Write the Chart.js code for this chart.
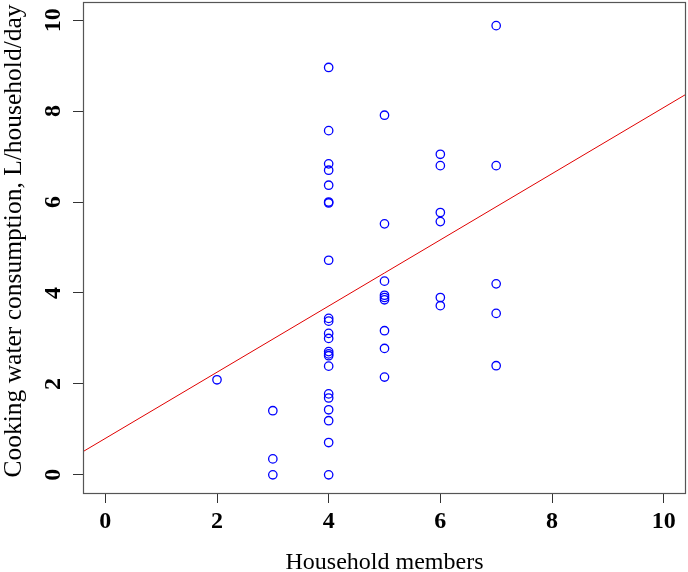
<!DOCTYPE html>
<html>
<head>
<meta charset="utf-8">
<script src="https://cdn.jsdelivr.net/npm/chart.js@4/dist/chart.umd.min.js"></script>
<style>
  html, body { margin: 0; padding: 0; background: #ffffff; }
  #wrap { width: 688px; height: 572px; }
</style>
</head>
<body>
<div id="wrap"><canvas id="c" width="688" height="572"></canvas></div>
<script>
// ---- Data ----
const householdMembers = [
  2,
  3, 3, 3,
  4, 4, 4, 4, 4, 4, 4, 4, 4, 4, 4, 4, 4, 4, 4, 4, 4, 4, 4, 4, 4, 4,
  5, 5, 5, 5, 5, 5, 5, 5, 5,
  6, 6, 6, 6, 6, 6,
  7, 7, 7, 7, 7
];
const cookingWater = [
  2.09,
  1.41, 0.35, 0.00,
  8.96, 7.57, 6.84, 6.70, 6.37, 6.00, 5.98, 4.72, 3.44, 3.38, 3.11, 3.00, 2.71, 2.66, 2.62, 2.39, 1.78, 1.69, 1.43, 1.19, 0.71, 0.00,
  7.91, 5.52, 4.26, 3.95, 3.90, 3.85, 3.17, 2.78, 2.15,
  7.05, 6.80, 5.77, 5.57, 3.90, 3.72,
  9.88, 6.80, 4.20, 3.55, 2.40
];
// fitted line end points (at the plot edges)
const fitX = [-0.4, 10.4];
const fitY = [0.51, 8.37];
// axis ticks
const xTicks = [0, 2, 4, 6, 8, 10];
const yTicks = [0, 2, 4, 6, 8, 10];
const xTitle = 'Household members';
const yTitle = 'Cooking water consumption, L/household/day';

const serif = "'Liberation Serif', 'Times New Roman', serif";

const scatterData = householdMembers.map((x, i) => ({ x: x, y: cookingWater[i] }));
const fitData = fitX.map((x, i) => ({ x: x, y: fitY[i] }));

const boxAndYLabels = {
  id: 'boxAndYLabels',
  afterDraw(chart) {
    const ctx = chart.ctx;
    const a = chart.chartArea;
    ctx.save();
    ctx.strokeStyle = '#555555';
    ctx.lineWidth = 1.2;
    ctx.strokeRect(a.left + 0.5, a.top + 0.5, a.right - a.left - 1, a.bottom - a.top);
    // rotated y tick labels (R style, las = 0)
    const ys = chart.scales.y;
    ctx.fillStyle = '#000000';
    ctx.font = 'bold 24px ' + serif;
    ctx.textAlign = 'center';
    ctx.textBaseline = 'alphabetic';
    yTicks.forEach(v => {
      const py = ys.getPixelForValue(v);
      ctx.save();
      ctx.translate(60, py);
      ctx.rotate(-Math.PI / 2);
      ctx.fillText(String(v), 0, 0);
      ctx.restore();
    });
    // y axis title
    ctx.font = '25.5px ' + serif;
    ctx.save();
    ctx.translate(21, 241);
    ctx.rotate(-Math.PI / 2);
    ctx.fillText(yTitle, 0, 0);
    ctx.restore();
    // x axis title
    ctx.font = '24px ' + serif;
    ctx.fillText(xTitle, (a.left + a.right) / 2, 569);
    ctx.restore();
  }
};

new Chart(document.getElementById('c'), {
  data: {
    datasets: [
      {
        type: 'scatter',
        data: scatterData,
        pointStyle: 'circle',
        pointRadius: 4.2,
        pointHoverRadius: 4.2,
        pointBorderWidth: 1.3,
        pointBorderColor: '#0000ff',
        pointBackgroundColor: 'rgba(0,0,0,0)',
        showLine: false
      },
      {
        type: 'line',
        data: fitData,
        borderColor: '#e00000',
        borderWidth: 1,
        pointRadius: 0,
        fill: false,
        tension: 0
      }
    ]
  },
  options: {
    responsive: false,
    devicePixelRatio: 1,
    animation: false,
    events: [],
    layout: { autoPadding: false, padding: { top: 2, right: 2, left: 0, bottom: 0 } },
    plugins: { legend: { display: false }, tooltip: { enabled: false } },
    scales: {
      x: {
        type: 'linear',
        min: -0.4,
        max: 10.4,
        afterBuildTicks(scale) { scale.ticks = xTicks.map(v => ({ value: v })); },
        afterFit(scale) { scale.height = 79; },
        grid: { drawOnChartArea: false, drawTicks: true, tickLength: 10, color: '#333333', lineWidth: 1 },
        border: { display: false },
        ticks: {
          color: '#000000',
          font: { family: serif, size: 24, weight: 'bold' },
          padding: 4,
          maxRotation: 0,
          minRotation: 0,
          callback: v => String(v)
        },
        title: { display: false }
      },
      y: {
        type: 'linear',
        min: -0.4,
        max: 10.4,
        afterBuildTicks(scale) { scale.ticks = yTicks.map(v => ({ value: v })); },
        afterFit(scale) { scale.width = 83; },
        grid: { drawOnChartArea: false, drawTicks: true, tickLength: 10, color: '#333333', lineWidth: 1 },
        border: { display: false },
        ticks: { display: false },
        title: { display: false }
      }
    }
  },
  plugins: [boxAndYLabels]
});
</script>
</body>
</html>
